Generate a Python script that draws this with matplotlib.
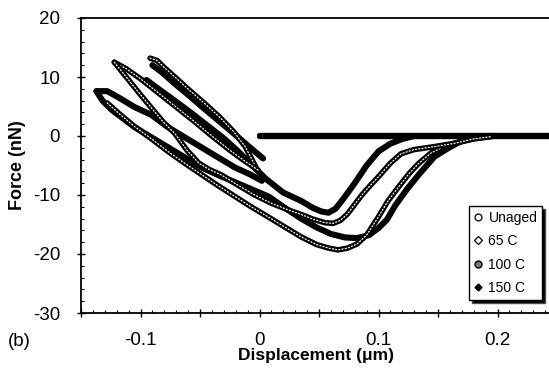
import matplotlib
matplotlib.use("Agg")
import matplotlib.pyplot as plt
from matplotlib.lines import Line2D
from matplotlib.ticker import MultipleLocator, FuncFormatter

plt.rcParams['font.family'] = ['Liberation Sans', 'DejaVu Sans']
plt.rcParams['axes.unicode_minus'] = False

# ---------------- data ----------------
series_labels = ["Unaged", "65 C", "100 C", "150 C"]

approach_x = [0.0, 0.245]
approach_y = [0.0, 0.0]

unaged_load_x = [-0.122, -0.112, -0.100, -0.085, -0.070, -0.055, -0.040, -0.025, -0.012, -0.001]
unaged_load_y = [12.5, 11.4, 9.7, 7.3, 4.9, 2.5, 0.0, -2.4, -4.3, -5.8]
unaged_unload_x = [-0.122, -0.116, -0.108, -0.100, -0.091, -0.081, -0.071, -0.061, -0.051, -0.042,
                   -0.032, -0.020, -0.005, 0.010, 0.025, 0.035, 0.045, 0.055, 0.062, 0.068,
                   0.074, 0.080, 0.086, 0.093, 0.100, 0.110, 0.119, 0.130, 0.147, 0.165, 0.180, 0.195]
unaged_unload_y = [12.5, 11.0, 9.0, 7.0, 4.8, 2.4, 0.4, -2.4, -4.6, -5.7,
                   -6.6, -8.1, -9.9, -11.4, -12.6, -13.3, -14.1, -14.7, -14.8, -14.3,
                   -13.2, -11.6, -10.0, -8.4, -6.9, -4.6, -3.0, -2.3, -1.8, -1.2, -0.5, -0.1]

c65_load_x = [-0.092, -0.086, -0.080, -0.070, -0.058, -0.046, -0.034, -0.022, -0.012, -0.003]
c65_load_y = [13.2, 12.8, 11.6, 9.8, 7.6, 5.5, 3.3, 0.8, -1.8, -5.3]
c65_unload_x = [-0.128, -0.118, -0.105, -0.090, -0.077, -0.063, -0.049, -0.035, -0.021, -0.007,
                0.008, 0.021, 0.035, 0.048, 0.058, 0.066, 0.074, 0.082, 0.090, 0.100,
                0.108, 0.117, 0.126, 0.134, 0.144, 0.153, 0.164, 0.178, 0.195]
c65_unload_y = [5.6, 3.8, 1.6, -0.6, -2.6, -4.6, -6.5, -8.4, -10.2, -12.0,
                -13.8, -15.4, -17.1, -18.4, -19.0, -19.3, -19.0, -18.3, -16.8, -13.7,
                -11.0, -8.6, -6.3, -4.6, -2.9, -2.0, -1.2, -0.5, 0.0]

c100_load_x = [0.002, -0.008, -0.021, -0.035, -0.049, -0.063, -0.077, -0.091, -0.105, -0.119, -0.128, -0.137]
c100_load_y = [-7.6, -6.5, -5.3, -3.6, -1.9, -0.2, 1.5, 3.6, 4.9, 6.6, 7.6, 7.6]
c100_unload_x = [-0.137, -0.132, -0.124, -0.105, -0.091, -0.077, -0.063, -0.049, -0.035, -0.021,
                 -0.007, 0.008, 0.020, 0.035, 0.048, 0.060, 0.072, 0.082, 0.092, 0.100,
                 0.107, 0.114, 0.124, 0.134, 0.147, 0.159, 0.170, 0.182, 0.195]
c100_unload_y = [7.6, 6.0, 4.4, 1.5, -0.2, -1.9, -3.6, -5.3, -6.6, -7.8,
                 -9.0, -10.3, -12.0, -14.0, -15.5, -16.6, -17.2, -17.3, -16.8, -15.6,
                 -14.2, -11.8, -9.0, -6.5, -3.5, -2.0, -0.8, -0.2, 0.0]

c150_load_x = [0.003, -0.010, -0.022, -0.035, -0.048, -0.060, -0.072, -0.082, -0.090]
c150_load_y = [-3.8, -1.6, 0.5, 2.7, 4.9, 7.0, 9.0, 10.8, 12.0]
c150_unload_x = [-0.095, -0.085, -0.072, -0.058, -0.044, -0.030, -0.019, -0.007, 0.005, 0.020,
                 0.035, 0.045, 0.052, 0.058, 0.064, 0.071, 0.080, 0.090, 0.100, 0.110, 0.120, 0.130]
c150_unload_y = [9.5, 8.0, 6.1, 4.0, 1.8, -0.4, -2.4, -4.8, -7.2, -9.6,
                 -11.0, -12.2, -12.8, -13.0, -12.3, -10.5, -8.0, -5.0, -2.6, -1.3, -0.5, 0.0]

x_ticks = [-0.1, 0.0, 0.1, 0.2]
y_ticks = [-30, -20, -10, 0, 10, 20]

# ---------------- figure ----------------
fig = plt.figure(figsize=(5.49, 3.69), dpi=100)
ax = fig.add_axes([81 / 549, 1 - 313 / 369, 476 / 549, 295 / 369])
ax.set_xlim(-0.15, 0.25)
ax.set_ylim(-30, 20)

thick = dict(color='black', lw=4.4, solid_capstyle='round', solid_joinstyle='round')

# approach segments (all series overlap at zero force)
for _ in series_labels:
    ax.plot(approach_x, approach_y, **thick)

# filled (dark) series
ax.plot(c100_load_x, c100_load_y, **thick)
ax.plot(c100_unload_x, c100_unload_y, **thick)
ax.plot(c150_load_x, c150_load_y, **thick)
ax.plot(c150_unload_x, c150_unload_y, **thick)

# open-marker series: dark chain with light centres
def chain(xs, ys):
    ax.plot(xs, ys, color='black', lw=4.0, solid_capstyle='round', solid_joinstyle='round')
    ax.plot(xs, ys, color='white', lw=0.9, linestyle=(0, (0.9, 1.7)), dash_capstyle='round')

chain(c65_load_x, c65_load_y)
chain(c65_unload_x, c65_unload_y)
chain(unaged_load_x, unaged_load_y)
chain(unaged_unload_x, unaged_unload_y)

# ---------------- axes styling ----------------
for s in ['left', 'bottom', 'top']:
    ax.spines[s].set_linewidth(1.3)
    ax.spines[s].set_color('black')
ax.spines['right'].set_visible(False)

ax.xaxis.set_major_locator(MultipleLocator(0.05))
ax.xaxis.set_minor_locator(MultipleLocator(0.01))
def xfmt(v, pos):
    for t in x_ticks:
        if abs(v - t) < 1e-6:
            return '0' if abs(t) < 1e-9 else ('%g' % t)
    return ''
ax.xaxis.set_major_formatter(FuncFormatter(xfmt))
ax.set_yticks(y_ticks)
ax.yaxis.set_minor_locator(MultipleLocator(2))
ax.yaxis.set_major_formatter(FuncFormatter(lambda v, p: '%d' % v))

ax.tick_params(which='major', direction='inout', length=6, width=1.0, labelsize=13.5, pad=11,
               top=False, right=False)
ax.tick_params(which='minor', direction='in', length=2.5, width=0.8, top=False, right=False)
ax.tick_params(axis='y', which='major', pad=12)

fig.text(316 / 549, 1 - 360 / 369, 'Displacement (\u03bcm)', fontsize=12.5, fontweight='bold',
         ha='center', va='baseline')
ax.set_ylabel('Force (nN)', fontsize=13, fontweight='bold', labelpad=5)
fig.text(8 / 549, 1 - 346 / 369, '(b)', fontsize=13.5)

handles = [
    Line2D([], [], ls='none', marker='o', mfc='white', mec='black', ms=5, mew=0.9),
    Line2D([], [], ls='none', marker='D', mfc='white', mec='black', ms=3.8, mew=0.9),
    Line2D([], [], ls='none', marker='o', mfc='#777777', mec='black', ms=5, mew=1.0),
    Line2D([], [], ls='none', marker='D', mfc='black', mec='black', ms=3.5),
]
leg = ax.legend(handles, series_labels, loc='upper left',
                bbox_to_anchor=(469 / 549, 1 - 206 / 369), bbox_transform=fig.transFigure,
                borderaxespad=0, fontsize=10, frameon=True, fancybox=False,
                shadow={'fc': 'black', 'alpha': 1.0}, handlelength=0.6, handletextpad=0.45,
                labelspacing=0.68, borderpad=0.35, framealpha=1)
leg.get_frame().set_edgecolor('black')
leg.get_frame().set_linewidth(1.0)

fig.savefig('out.png', dpi=100)
